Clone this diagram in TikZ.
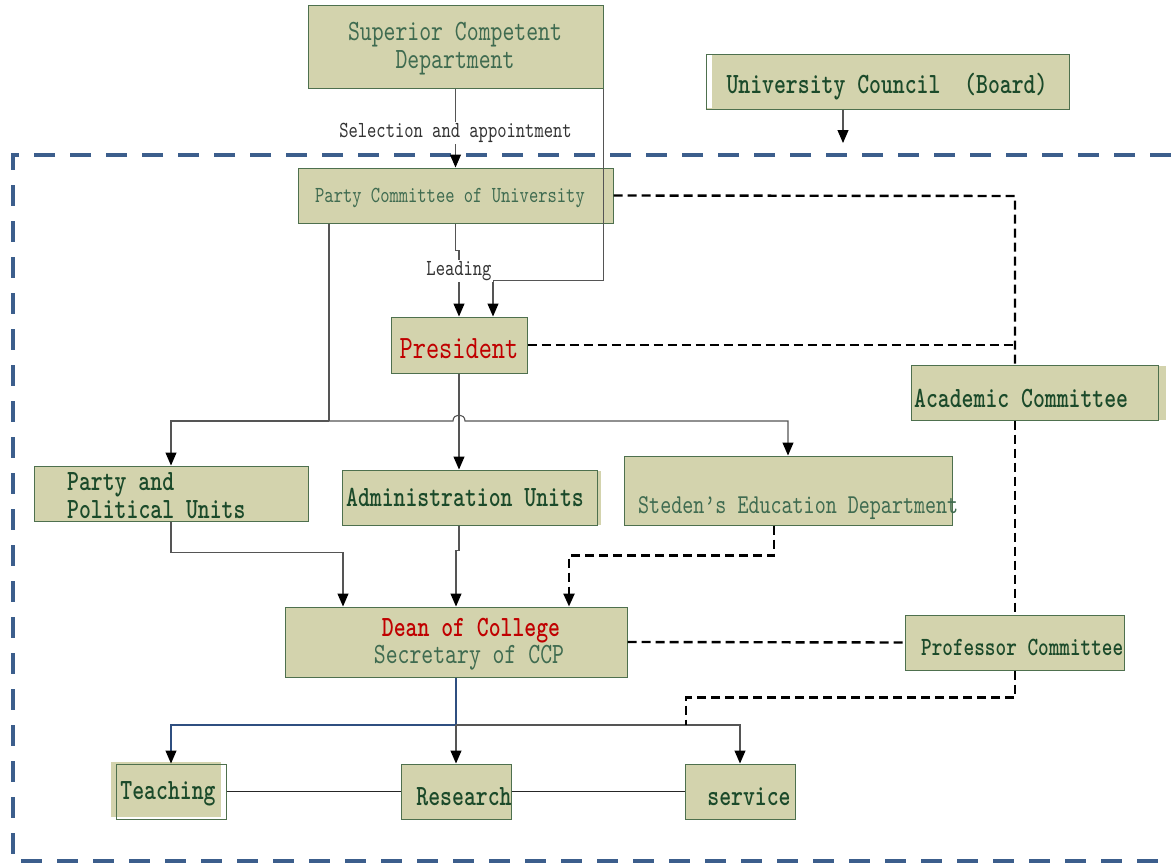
\documentclass[tikz,border=0pt]{standalone}
\usepackage{fontspec}
\newfontfamily\mf{lmmono10-regular.otf}[FakeStretch=0.77,BoldFont=lmmonolt10-bold.otf,BoldFeatures={FakeStretch=0.77}]
\usetikzlibrary{arrows.meta}
\definecolor{boxfill}{HTML}{D3D3AD}
\definecolor{boxline}{HTML}{4E704E}
\definecolor{tdark}{HTML}{1B4A2A}
\definecolor{tlight}{HTML}{3F6B50}
\definecolor{tred}{HTML}{C00000}
\definecolor{bluedash}{HTML}{3C5E8C}
\definecolor{conn}{HTML}{555555}
\definecolor{bluecon}{HTML}{2F4F80}
\begin{document}
\begin{tikzpicture}[x=1pt,y=-1pt,
  box/.style={draw=boxline,fill=boxfill,line width=1pt,inner sep=0pt},
  big/.style={font=\mf\fontsize{29.4}{28}\selectfont,text=tlight,inner sep=0pt},
  bigb/.style={font=\mf\bfseries\fontsize{29.4}{28}\selectfont,text=tdark,inner sep=0pt},
  small/.style={font=\mf\fontsize{23}{23}\selectfont,inner sep=0pt},
  lbl/.style={small,fill=white,text=black!80,inner sep=1.5pt},
  conline/.style={draw=conn,line width=1.1pt},
  arr/.style={conline,-{Triangle[length=13pt,width=11pt,color=black]}},
  dsh/.style={draw=black,line width=2.4pt,dash pattern=on 9pt off 5pt},
  darr/.style={dsh,-{Triangle[length=13pt,width=11pt,color=black]}},
]
\useasboundingbox (0,0) rectangle (1171,865);
% outer frame
\draw[bluedash,line width=4.5pt,dash pattern=on 21pt off 15pt] (1171,155) -- (13,155) -- (13,861) -- (1171,861);

% boxes
\node[box,minimum width=295pt,minimum height=83pt] (sup) at (455.5,46.5) {};
\node[box,minimum width=363pt,minimum height=55pt] (council) at (887.5,81.5) {};
\fill[white] (706.6,54.6) rectangle (712,108.4);
\node[box,minimum width=315pt,minimum height=55pt] (party) at (455.5,195.5) {};
\node[box,minimum width=136pt,minimum height=56pt] (pres) at (459,345) {};
\node[box,minimum width=274pt,minimum height=55pt] (pp) at (171,493.5) {};
\fill[boxfill] (597,470.5) rectangle (600.5,525);
\node[box,minimum width=255pt,minimum height=55pt] (adm) at (469.5,497.5) {};
\node[box,minimum width=328pt,minimum height=69pt] (sted) at (788,490.5) {};
\fill[boxfill] (1158,365.5) rectangle (1166,420);
\node[box,minimum width=247pt,minimum height=55pt] (acad) at (1034.5,392.5) {};
\node[box,minimum width=219pt,minimum height=55pt] (prof) at (1014.5,642.5) {};
\node[box,minimum width=342pt,minimum height=70pt] (dean) at (456,642) {};
\fill[boxfill] (111,762) rectangle (221,817);
\node[box,fill=none,minimum width=110pt,minimum height=55pt] (teach) at (171,791.5) {};
\node[box,minimum width=110pt,minimum height=55pt] (res) at (456,791.5) {};
\node[box,minimum width=110pt,minimum height=55pt] (serv) at (740,791.5) {};

% coordinates
\coordinate (cj) at (843,143);
\coordinate (hj) at (329,421);
\coordinate (aj) at (1015,196);
\coordinate (dj) at (456,725);
\coordinate (sj) at (686,725);

% solid connectors
\draw[arr] ([xshift=-44.5pt]council.south) -- (cj);
\draw[arr] (sup.south) -- node[lbl,pos=0.56] (lsel) {Selection and appointment} (party.north);
\draw[arr] (sup.south east) -- ++(0,192) -| ([xshift=34pt]pres.north);
\draw[conline] (party.south) -- ++(0,27) -- ++(3.5,0) -- (459,258);
\draw[arr] (459,258) -- node[lbl,pos=0.22] (llead) {Leading} (pres.north);
\draw[conline] (hj |- party.south) -- (hj);
\draw[arr] (hj) -| (pp.north);
\draw[arr] (hj) -- (453,421) .. controls (453,413) and (465,413) .. (465,421) -| (sted.north);
\draw[arr] (pres.south) -- (pres.south |- adm.north);
\draw[arr] (pp.south) -- ++(0,31) -| ([xshift=-113pt]dean.north);
\draw[arr] ([xshift=-10.5pt]adm.south) -- ++(0,25) -- ++(-3,0) -- (dean.north);
\draw[draw=bluecon,line width=1.1pt] (dean.south) -- (dj);
\draw[arr,draw=bluecon] (dj) -| (teach.north);
\draw[arr] (dj) -- (res.north);
\draw[arr] (dj) -| (serv.north);
\draw[line width=1.1pt,draw=black!85] (teach.east) -- (res.west);
\draw[line width=1.1pt,draw=black!85] (res.east) -- (serv.west);

% dashed connectors
\draw[darr] ([xshift=-14pt]sted.south) -- ++(0,30) -| ([xshift=113pt]dean.north);
\draw[dsh] (party.east) -- (aj) -- (aj |- acad.north);
\draw[dsh] (pres.east) -- (pres.east -| aj);
\draw[dsh] (acad.south -| aj) -- (aj |- prof.north);
\draw[dsh] (dean.east) -- (prof.west);
\draw[dsh] (prof.south -| aj) -- ++(0,27) -| (sj);

% texts
\node[big,align=center] (tsup) at (455,49) {Superior Competent\\Department};
\node[bigb] (tcouncil) at (887,87) {University Council~~(Board)};
\node[small,text=tlight] (tparty) at (450,198) {Party Committee of University};
\node[font=\mf\fontsize{32.6}{32}\selectfont,text=tred,inner sep=0pt] (tpres) at (459,349) {President};
\node[bigb,align=left,anchor=west] (tpp) at (67,496) {Party and\\Political Units};
\node[bigb] (tadm) at (465,497) {Administration Units};
\node[font=\mf\fontsize{27.3}{27}\selectfont,text=tlight,anchor=west,inner sep=0pt] (tsted) at (638,508) {Steden’s Education Department};
\node[bigb,anchor=west] (tacad) at (914,398) {Academic Committee};
\node[font=\mf\bfseries\fontsize{26.3}{26}\selectfont,text=tdark,anchor=west,inner sep=0pt] (tprof) at (921,647) {Professor Committee};
\node[bigb,text=tred] (tdean) at (471,631) {Dean of College};
\node[big] (tsec) at (469,658) {Secretary of CCP};
\node[bigb] (tteach) at (168,794) {Teaching};
\node[bigb] (tres) at (464,797) {Research};
\node[bigb] (tserv) at (749,797) {service};
\end{tikzpicture}
\end{document}
